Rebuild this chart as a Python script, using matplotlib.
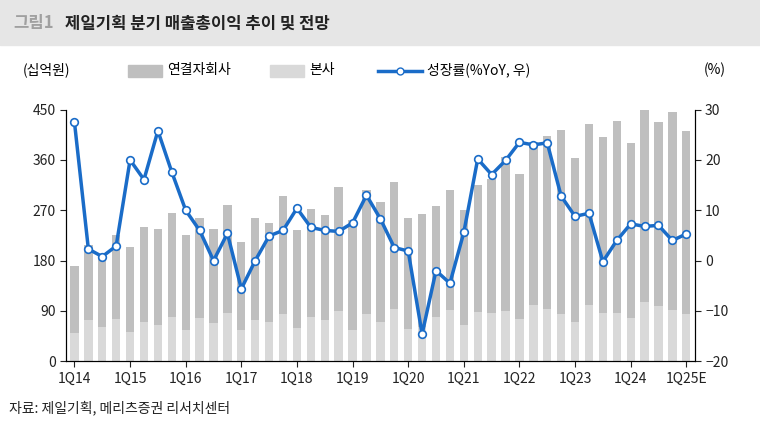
import matplotlib
matplotlib.use("Agg")
import matplotlib.pyplot as plt
from matplotlib.patches import Rectangle

plt.rcParams["font.family"] = "Noto Sans CJK KR"

years = list(range(14, 26))
quarters = [f"{q}Q{y}" for y in years for q in range(1, 5)][:45]
quarters[-1] = "1Q25E"

total = [171, 208, 187, 225, 205, 241, 237, 265, 226, 256, 236, 279, 213, 256, 247, 295,
         235, 272, 262, 312, 253, 307, 284, 320, 257, 263, 278, 306, 271, 316, 326, 366,
         335, 392, 402, 413, 364, 424, 401, 429, 390, 451, 428, 446, 411]
hq = [50, 73, 62, 76, 52, 70, 64, 80, 55, 78, 68, 86, 55, 73, 71, 84,
      59, 80, 73, 90, 55, 84, 71, 94, 58, 62, 80, 91, 65, 88, 87, 90,
      76, 101, 93, 85, 71, 101, 87, 87, 77, 106, 98, 92, 84]
growth = [27.5, 2.3, 0.8, 2.9, 20.0, 16.1, 25.8, 17.6, 10.0, 6.0, 0.0, 5.4, -5.6, 0.0, 4.9, 6.0,
          10.4, 6.6, 6.0, 5.8, 7.5, 13.0, 8.3, 2.6, 1.9, -14.6, -2.0, -4.5, 5.6, 20.2, 17.1, 19.9,
          23.5, 23.0, 23.4, 12.8, 8.8, 9.4, -0.2, 4.0, 7.3, 6.8, 7.0, 4.0, 5.3]

fig = plt.figure(figsize=(7.6, 4.25), dpi=100)
fig.patches.append(Rectangle((0, 0.895), 1, 0.105, transform=fig.transFigure,
                             color="#e6e6e6", zorder=0))
fig.text(0.018, 0.945, "그림1", fontsize=12, fontweight="bold", color="#a0a0a0", va="center")
fig.text(0.085, 0.945, "제일기획 분기 매출총이익 추이 및 전망", fontsize=12, fontweight="bold",
         color="#222222", va="center")

ax = fig.add_axes([0.087, 0.15, 0.827, 0.592])
x = list(range(len(quarters)))
ax.bar(x, total, width=0.6, color="#bfbfbf", zorder=1)
ax.bar(x, hq, width=0.6, color="#d9d9d9", zorder=2)
ax.set_ylim(0, 450)
ax.set_yticks(range(0, 451, 90))
ax.set_xlim(-0.6, len(x) - 0.4)
ax.set_xticks(list(range(0, 45, 4)))
ax.set_xticklabels([quarters[i] for i in range(0, 45, 4)])
ax.spines["top"].set_visible(False)
ax.tick_params(labelsize=10, colors="#222222", length=4)

ax2 = ax.twinx()
ax2.plot(x, growth, color="#1a6cc8", lw=2.5, marker="o", ms=5.5,
         mfc="white", mec="#1a6cc8", mew=1.2, zorder=5)
ax2.set_ylim(-20, 30)
ax2.set_yticks(range(-20, 31, 10))
ax2.spines["top"].set_visible(False)
ax2.tick_params(labelsize=10, colors="#222222", length=4)

fig.text(0.03, 0.825, "(십억원)", fontsize=10)
fig.text(0.94, 0.825, "(%)", fontsize=10, ha="center")
fig.patches.append(Rectangle((0.168, 0.818), 0.045, 0.03, transform=fig.transFigure, color="#bfbfbf"))
fig.text(0.22, 0.825, "연결자회사", fontsize=10)
fig.patches.append(Rectangle((0.355, 0.818), 0.045, 0.03, transform=fig.transFigure, color="#d9d9d9"))
fig.text(0.407, 0.825, "본사", fontsize=10)
fig.lines.append(plt.Line2D([0.497, 0.555], [0.833, 0.833], transform=fig.transFigure,
                            color="#1a6cc8", lw=2.5))
fig.lines.append(plt.Line2D([0.526], [0.833], transform=fig.transFigure, marker="o",
                            ms=5, mfc="white", mec="#1a6cc8", color="#1a6cc8"))
fig.text(0.562, 0.825, "성장률(%YoY, 우)", fontsize=10)

fig.text(0.012, 0.03, "자료: 제일기획, 메리츠증권 리서치센터", fontsize=10, color="#222222")
fig.savefig("out.png", dpi=100)
